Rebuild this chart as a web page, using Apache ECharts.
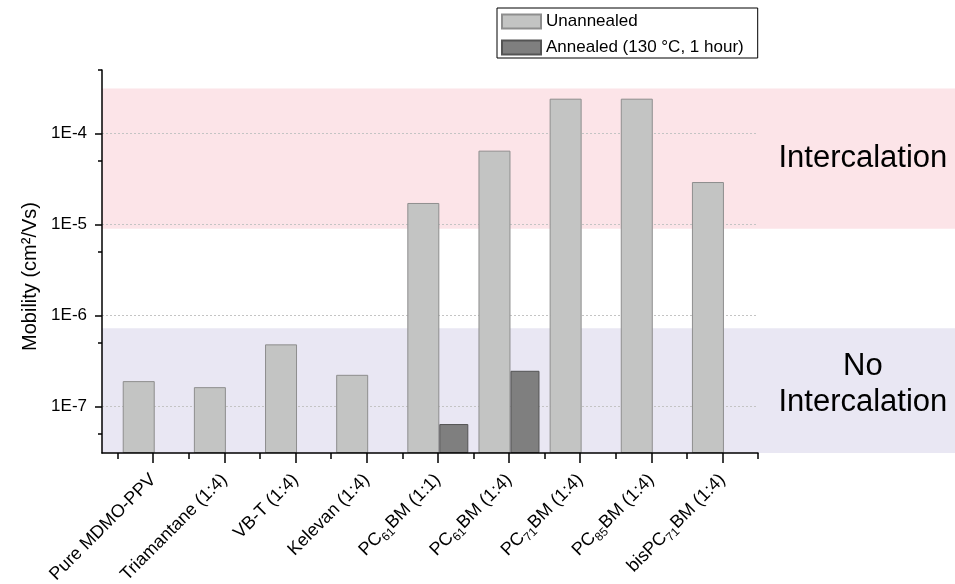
<!DOCTYPE html>
<html>
<head>
<meta charset="utf-8">
<script src="https://cdn.jsdelivr.net/npm/echarts@6/dist/echarts.min.js"></script>
<style>html,body{margin:0;padding:0;background:#fff}#c{width:955px;height:584px}</style>
</head>
<body>
<div id="c"></div>
<script>
// ---- data ----
var categories = ['Pure MDMO-PPV', 'Triamantane (1:4)', 'VB-T (1:4)', 'Kelevan (1:4)',
  'PC{s|61}BM (1:1)', 'PC{s|61}BM (1:4)', 'PC{s|71}BM (1:4)', 'PC{s|85}BM (1:4)', 'bisPC{s|71}BM (1:4)'];
var unannealed = [1.91e-7, 1.64e-7, 4.84e-7, 2.24e-7, 1.73e-5, 6.5e-5, 2.42e-4, 2.42e-4, 2.94e-5];
var annealed = [null, null, null, null, 6.45e-8, 2.48e-7, null, null, null];
var seriesNames = ['Unannealed', 'Annealed (130 \u00B0C, 1 hour)'];
var majorTicks = [1e-7, 1e-6, 1e-5, 1e-4];
var minorTicks = [5e-8, 5e-7, 5e-6, 5e-5, 5e-4];
var xPositions = [1, 2, 3, 4, 5, 6, 7, 8, 9];
var xMinor = [0.5, 1.5, 2.5, 3.5, 4.5, 5.5, 6.5, 7.5, 8.5, 9.5];
var intercalationBand = [9.0e-6, 3.14e-4];
var noIntercalationBand = [3.1e-8, 7.26e-7];
var yMin = 3.1e-8, yMax = 5e-4;
var xMin = 0.28, xMax = 9.5;

function pairs(vals) {
  var out = [];
  vals.forEach(function (v, i) { if (v != null) out.push([xPositions[i], v]); });
  return out;
}

var FONT = '"Liberation Sans", Arial, sans-serif';
var chart = echarts.init(document.getElementById('c'), null, {renderer: 'canvas'});
var tickLine = {color: '#000', width: 1.5};

function tickOnlyX(values, len) {
  return {
    type: 'value', gridIndex: 0, min: xMin, max: xMax, position: 'bottom', z: 3,
    axisLine: {show: false},
    axisTick: {show: true, length: len, customValues: values, lineStyle: tickLine},
    axisLabel: {show: false}, splitLine: {show: false}
  };
}
function tickOnlyY(values, len) {
  return {
    type: 'log', gridIndex: 0, min: yMin, max: yMax, position: 'left', z: 3,
    axisLine: {show: false},
    axisTick: {show: true, length: len, customValues: values, lineStyle: tickLine},
    axisLabel: {show: false}, splitLine: {show: false}
  };
}

var option = {
  animation: false,
  backgroundColor: '#fff',
  textStyle: {fontFamily: FONT, color: '#000'},
  grid: [
    {left: 102, right: 197, top: 70, bottom: 131, containLabel: false, outerBoundsMode: 'none'},
    {left: 102, right: 0, top: 70, bottom: 131, containLabel: false, outerBoundsMode: 'none'}
  ],
  legend: {
    data: seriesNames,
    orient: 'vertical',
    left: 497, top: 8,
    itemWidth: 39, itemHeight: 14, itemGap: 9, itemTextGap: 7,
    borderColor: '#000', borderWidth: 1,
    padding: [5, 14, 2, 4],
    icon: 'rect',
    textStyle: {fontSize: 17, fontFamily: FONT, color: '#000'}
  },
  xAxis: [
    {
      type: 'value', gridIndex: 0, min: xMin, max: xMax, position: 'bottom', z: 3,
      axisLine: {show: true, lineStyle: {color: '#000', width: 1.5}},
      axisTick: {show: false, customValues: xPositions},
      axisLabel: {
        customValues: xPositions, rotate: 45, margin: 24, fontSize: 18, color: '#000',
        fontFamily: FONT, lineHeight: 24,
        formatter: function (v) { return categories[Math.round(v) - 1] || ''; },
        rich: {s: {fontSize: 12, lineHeight: 12, verticalAlign: 'bottom', fontFamily: FONT, color: '#000'}}
      },
      splitLine: {show: false}
    },
    tickOnlyX(xPositions, 10),
    tickOnlyX(xMinor, 6),
    {type: 'value', gridIndex: 1, min: 0, max: 1, show: false}
  ],
  yAxis: [
    {
      type: 'log', gridIndex: 0, min: yMin, max: yMax, startValue: yMin, position: 'left', z: 1,
      name: 'Mobility (cm\u00B2/Vs)', nameLocation: 'middle', nameGap: 60,
      nameTextStyle: {fontSize: 20, fontFamily: FONT, color: '#000', padding: [0, 30, 0, 0]},
      axisLine: {show: true, lineStyle: {color: '#000', width: 1.5}},
      axisTick: {show: false, customValues: majorTicks},
      axisLabel: {
        customValues: majorTicks, margin: 15, fontSize: 17, color: '#000', fontFamily: FONT,
        formatter: function (v) { return '1E' + Math.round(Math.log10(v)); }
      },
      splitLine: {show: true, lineStyle: {color: '#c4c4c4', type: [2, 2], width: 1}}
    },
    tickOnlyY(majorTicks, 7),
    tickOnlyY(minorTicks, 4),
    {type: 'log', gridIndex: 1, min: yMin, max: yMax, show: false}
  ],
  series: [
    {
      name: 'bands', type: 'line', xAxisIndex: 3, yAxisIndex: 3, data: [], z: 0,
      silent: true, showSymbol: false,
      markArea: {
        silent: true, z: -1,
        data: [
          [{yAxis: intercalationBand[0], itemStyle: {color: '#fce4e8'},
            label: {show: true, formatter: 'Intercalation', position: ['89.2%', '50%'], align: 'center', verticalAlign: 'middle',
              fontSize: 31, fontFamily: FONT, color: '#000'}},
           {yAxis: intercalationBand[1]}],
          [{yAxis: noIntercalationBand[0], itemStyle: {color: '#e9e7f3'},
            label: {show: true, formatter: 'No\nIntercalation', position: ['89.2%', '45%'], align: 'center', verticalAlign: 'middle',
              fontSize: 31, lineHeight: 36, fontFamily: FONT, color: '#000'}},
           {yAxis: noIntercalationBand[1]}]
        ]
      }
    },
    {
      name: seriesNames[0], type: 'bar', xAxisIndex: 0, yAxisIndex: 0, z: 2,
      barWidth: 32, barGap: '0%',
      itemStyle: {color: '#c3c4c3', borderColor: '#8e8e8e', borderWidth: 1},
      data: pairs(unannealed)
    },
    {
      name: seriesNames[1], type: 'bar', xAxisIndex: 0, yAxisIndex: 0, z: 2,
      barWidth: 29, barGap: '0%',
      itemStyle: {color: '#7f7f7f', borderColor: '#545454', borderWidth: 1},
      data: pairs(annealed)
    }
  ]
};
chart.setOption(option);
</script>
</body>
</html>
